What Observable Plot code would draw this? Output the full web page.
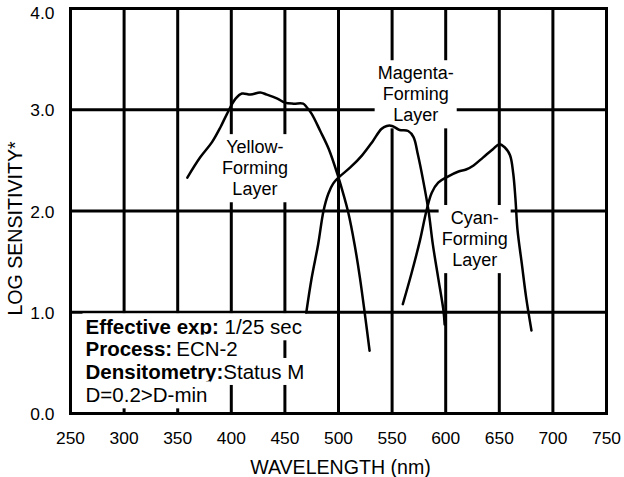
<!DOCTYPE html>
<html>
<head>
<meta charset="utf-8">
<script src="https://cdn.jsdelivr.net/npm/d3@7"></script>
<script src="https://cdn.jsdelivr.net/npm/@observablehq/plot@0.6"></script>
<style>
  html, body { margin: 0; padding: 0; background: #fff; }
</style>
</head>
<body>
<script>
// ---- data ----
const xTicks = [250, 300, 350, 400, 450, 500, 550, 600, 650, 700, 750];
const yTicks = [0, 1, 2, 3];
const yTopTick = [4];
const xGrid = [300, 350, 400, 450, 500, 550, 600, 650, 700];
const yGrid = [1, 2, 3];
const xTitle = "WAVELENGTH (nm)";
const yTitle = "LOG SENSITIVITY*";

const yellowNm  = [359, 371, 382, 390, 396, 404, 410, 418, 427, 433, 443, 450, 458, 467, 470, 475, 483, 491, 500, 505, 509, 515, 520, 525, 529];
const yellowLog = [2.33, 2.53, 2.68, 2.83, 2.96, 3.11, 3.16, 3.15, 3.17, 3.15, 3.11, 3.07, 3.06, 3.06, 3.03, 2.96, 2.79, 2.61, 2.33, 2.15, 1.99, 1.67, 1.34, 0.95, 0.62];

const magentaNm  = [470, 475, 481, 486, 490.5, 495, 500, 511, 522, 532, 540, 545, 550, 557, 565, 570, 574, 579, 584, 588, 593, 598, 599];
const magentaLog = [1.00, 1.34, 1.67, 2.00, 2.17, 2.27, 2.33, 2.43, 2.55, 2.69, 2.81, 2.84, 2.84, 2.80, 2.79, 2.73, 2.56, 2.30, 2.00, 1.67, 1.34, 1.01, 0.88];

const cyanNm  = [560, 568, 576, 582, 587, 593, 602, 612, 619, 626, 635, 644, 650, 655, 660, 663, 665, 667, 671, 675, 680];
const cyanLog = [1.08, 1.38, 1.71, 2.00, 2.18, 2.28, 2.34, 2.39, 2.41, 2.45, 2.53, 2.61, 2.66, 2.63, 2.55, 2.37, 2.13, 1.81, 1.48, 1.15, 0.82];

const labelTexts = ["Yellow-\nForming\nLayer", "Magenta-\nForming\nLayer", "Cyan-\nForming\nLayer"];
const labelNm  = [422, 572, 627];
const labelLog = [2.43, 3.16, 1.73];

const legendBold = ["Effective exp:", "Process:", "Densitometry:", ""];
const legendRest = [" 1/25 sec", "\u2009ECN-2", "Status M", "D=0.2>D-min"];
const legendNm  = [264, 264, 264, 264];
const legendLog = [0.847, 0.636, 0.406, 0.175];

// ---- build tables ----
const curveRows = [];
[["Yellow", yellowNm, yellowLog], ["Magenta", magentaNm, magentaLog], ["Cyan", cyanNm, cyanLog]]
  .forEach(([layer, xs, ys]) => xs.forEach((x, i) => curveRows.push({layer, nm: x, log: ys[i]})));
const labelRows = labelTexts.map((t, i) => ({text: t, nm: labelNm[i], log: labelLog[i]}));
const legendRows = legendBold.map((b, i) => ({text: b + legendRest[i], nm: legendNm[i], log: legendLog[i]}));

const FONT = "'Liberation Sans', Arial, Helvetica, sans-serif";
const yFmt = d3.format(".1f");

const chart = Plot.plot({
  width: 624,
  height: 477,
  marginLeft: 70,
  marginRight: 18,
  marginTop: 8,
  marginBottom: 64,
  style: {fontFamily: FONT, fontSize: "17px", color: "black", background: "white"},
  x: {domain: [250, 750], axis: null},
  y: {domain: [0, 4], axis: null},
  marks: [
    Plot.ruleX(xGrid, {stroke: "black", strokeWidth: 3}),
    Plot.ruleY(yGrid, {stroke: "black", strokeWidth: 3}),
    Plot.axisX({ticks: xTicks, tickSize: 0, tickPadding: 18, label: null, fontSize: 17.4, fill: "black"}),
    Plot.axisY({ticks: yTicks, tickSize: 0, tickPadding: 16, label: null, fontSize: 17.4, fill: "black", tickFormat: yFmt, dy: 1}),
    Plot.axisY({ticks: yTopTick, tickSize: 0, tickPadding: 16, label: null, fontSize: 17.4, fill: "black", tickFormat: yFmt, dy: 5}),
    Plot.text(labelRows, {x: "nm", y: "log", text: "text", fontSize: 18, lineHeight: 1.17, textAnchor: "middle", lineAnchor: "middle", fill: "black"}),
    Plot.text(legendRows, {x: "nm", y: "log", text: "text", fontSize: 20.5, textAnchor: "start", lineAnchor: "middle", fill: "black"}),
    Plot.line(curveRows, {x: "nm", y: "log", z: "layer", stroke: "black", strokeWidth: 2.5, curve: "catmull-rom"}),
    Plot.text([xTitle], {frameAnchor: "bottom", text: d => d, dy: 54.5, dx: 2, fontSize: 19.6, textAnchor: "middle", lineAnchor: "middle", fill: "black"}),
    Plot.text([yTitle], {frameAnchor: "left", text: d => d, rotate: -90, dx: -55, dy: 17.5, fontSize: 19.6, textAnchor: "middle", lineAnchor: "middle", fill: "black"}),
    Plot.frame({stroke: "black", strokeWidth: 3})
  ]
});
document.body.append(chart);

// ---- white boxes behind labels; bold prefixes in legend ----
const NS = "http://www.w3.org/2000/svg";
const svg = chart.tagName.toLowerCase() === "svg" ? chart : chart.querySelector("svg");
const flatLabels = labelTexts.map(s => s.replace(/\n/g, ""));
Array.from(svg.querySelectorAll("text")).forEach(t => {
  const content = t.textContent;
  let pad = null;
  const row = legendBold.findIndex((b, i) => b + legendRest[i] === content);
  if (row >= 0) {
    t.textContent = "";
    const b = document.createElementNS(NS, "tspan");
    b.setAttribute("font-weight", "bold");
    b.textContent = legendBold[row];
    const r = document.createElementNS(NS, "tspan");
    r.textContent = legendRest[row];
    t.append(b, r);
    pad = [3, 2];
  } else if (flatLabels.includes(content)) {
    pad = [3, 3];
  }
  if (pad) {
    const bb = t.getBBox();
    const rect = document.createElementNS(NS, "rect");
    rect.setAttribute("x", bb.x - pad[0]);
    rect.setAttribute("y", bb.y - pad[1]);
    rect.setAttribute("width", bb.width + 2 * pad[0]);
    rect.setAttribute("height", bb.height + 2 * pad[1]);
    rect.setAttribute("fill", "white");
    rect.setAttribute("stroke", "none");
    const tr = t.getAttribute("transform");
    if (tr) rect.setAttribute("transform", tr);
    t.parentNode.insertBefore(rect, t);
  }
});
</script>
</body>
</html>
